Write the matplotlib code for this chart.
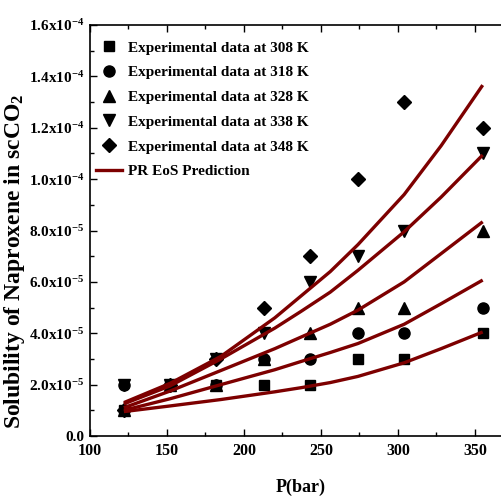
import matplotlib
matplotlib.use("Agg")
import matplotlib.pyplot as plt
from matplotlib.ticker import MultipleLocator
from matplotlib.lines import Line2D

plt.rcParams['font.family'] = ['Liberation Serif', 'DejaVu Serif']
plt.rcParams['font.weight'] = 'bold'
plt.rcParams['mathtext.fontset'] = 'custom'
plt.rcParams['mathtext.rm'] = 'Liberation Serif:bold'
plt.rcParams['mathtext.bf'] = 'Liberation Serif:bold'
plt.rcParams['mathtext.it'] = 'Liberation Serif:bold'

# Experimental data (bar, mole fraction)
pressure = [122, 152, 182, 213, 243, 274, 304, 355]
exp_308 = [1.0e-5, 2.0e-5, 2.0e-5, 2.0e-5, 2.0e-5, 3.0e-5, 3.0e-5, 4.0e-5]
exp_318 = [2.0e-5, 2.0e-5, 2.0e-5, 3.0e-5, 3.0e-5, 4.0e-5, 4.0e-5, 5.0e-5]
exp_328 = [1.0e-5, 2.0e-5, 2.0e-5, 3.0e-5, 4.0e-5, 5.0e-5, 5.0e-5, 8.0e-5]
exp_338 = [2.0e-5, 2.0e-5, 3.0e-5, 4.0e-5, 6.0e-5, 7.0e-5, 8.0e-5, 1.1e-4]
exp_348 = [1.0e-5, 2.0e-5, 3.0e-5, 5.0e-5, 7.0e-5, 1.0e-4, 1.3e-4, 1.2e-4]

# PR EoS predictions
p_model = [122, 152, 185, 220, 237, 256, 274, 304, 328, 355]
pr_308 = [0.95e-5, 1.17e-5, 1.42e-5, 1.72e-5, 1.88e-5, 2.08e-5, 2.32e-5, 2.85e-5, 3.40e-5, 4.05e-5]
pr_318 = [1.00e-5, 1.45e-5, 2.00e-5, 2.58e-5, 2.90e-5, 3.25e-5, 3.60e-5, 4.35e-5, 5.15e-5, 6.07e-5]
pr_328 = [1.10e-5, 1.75e-5, 2.55e-5, 3.40e-5, 3.85e-5, 4.35e-5, 4.90e-5, 6.00e-5, 7.10e-5, 8.34e-5]
pr_338 = [1.25e-5, 1.95e-5, 3.00e-5, 4.20e-5, 4.85e-5, 5.60e-5, 6.45e-5, 7.95e-5, 9.30e-5, 1.094e-4]
pr_348 = [1.30e-5, 2.05e-5, 3.10e-5, 4.60e-5, 5.45e-5, 6.40e-5, 7.45e-5, 9.40e-5, 1.13e-4, 1.366e-4]

temps = ['308', '318', '328', '338', '348']
markers = ['s', 'o', '^', 'v', 'D']
y_ticks = [0, 2e-5, 4e-5, 6e-5, 8e-5, 1.0e-4, 1.2e-4, 1.4e-4, 1.6e-4]
y_tick_labels = ['0.0', '2.0x10$^{-5}$', '4.0x10$^{-5}$', '6.0x10$^{-5}$', '8.0x10$^{-5}$',
                 '1.0x10$^{-4}$', '1.2x10$^{-4}$', '1.4x10$^{-4}$', '1.6x10$^{-4}$']
x_ticks = [100, 150, 200, 250, 300, 350]

line_color = '#7d0000'

fig = plt.figure(figsize=(5.02, 5.00), dpi=100)
ax = fig.add_axes([90/502, (500-436)/500, (512-90)/502, (436-25)/500])

exps = [exp_308, exp_318, exp_328, exp_338, exp_348]
prs = [pr_308, pr_318, pr_328, pr_338, pr_348]
sizes = [7, 8, 8, 8, 7]
handles = []
for t, m, e, ms in zip(temps, markers, exps, sizes):
    ax.plot(pressure, e, linestyle='none', marker=m, color='black', markersize=ms, zorder=2)
    handles.append(Line2D([], [], linestyle='none', marker=m, color='black', markersize=ms,
                          label=f'Experimental data at {t} K'))
for pr in prs:
    ax.plot(p_model, pr, color=line_color, linewidth=2.4, zorder=3, solid_capstyle='butt',
            solid_joinstyle='round')
handles.append(Line2D([], [], color=line_color, linewidth=2.4, label='PR EoS Prediction'))

xmax = 100 + (512 - 90) / 1.54
ax.set_xlim(100, xmax)
ax.set_ylim(0, 1.6e-4)
ax.set_xticks(x_ticks)
ax.set_xticklabels([str(v) for v in x_ticks])
ax.xaxis.set_minor_locator(MultipleLocator(25))
ax.set_yticks(y_ticks)
ax.set_yticklabels(y_tick_labels)
ax.yaxis.set_minor_locator(MultipleLocator(1e-5))
ax.tick_params(which='both', direction='in', top=True, right=True, labelsize=11.5, width=1)
ax.tick_params(axis='y', labelsize=11)
ax.tick_params(which='major', length=5)
ax.tick_params(which='minor', length=3)
ax.tick_params(axis='x', pad=5)
ax.tick_params(axis='y', pad=4)
for sp in ax.spines.values():
    sp.set_linewidth(1.2)

ax.set_xlabel('P(bar)', fontsize=13, fontweight='bold', labelpad=14)
ax.set_ylabel('Solubility of Naproxene in scCO$_{2}$', fontsize=17, fontweight='bold')
ax.yaxis.set_label_coords(-0.15, 0.426)

leg = ax.legend(handles=handles, loc='upper left', frameon=False, fontsize=11,
                bbox_to_anchor=(-0.012, 0.987), handlelength=1.75, handletextpad=0.35,
                labelspacing=0.72, borderaxespad=0.3)

fig.savefig('out.png', dpi=100)
